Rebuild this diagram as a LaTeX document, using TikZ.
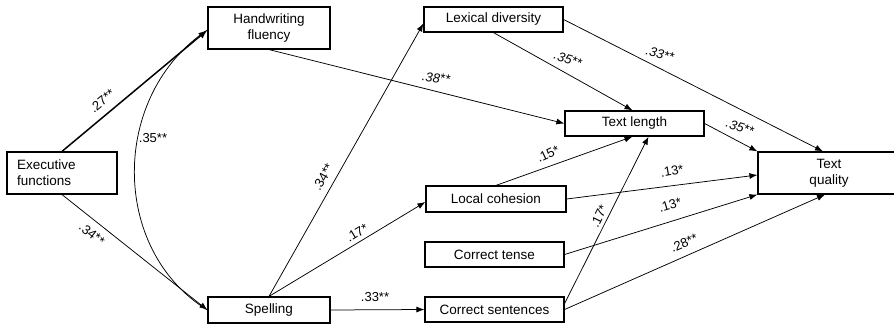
\documentclass[tikz,border=0pt]{standalone}
\usepackage{fontspec}
\setmainfont{Liberation Sans}
\usetikzlibrary{arrows.meta}
\begin{document}
\begin{tikzpicture}[x=1pt,y=-1pt,
  box/.style={draw, line width=1.2pt, inner sep=0pt, align=center,
    font=\fontsize{13.5}{16}\selectfont},
  link/.style={draw, line width=0.75pt, -{Latex[length=8pt,width=6pt]}},
  boldlink/.style={draw, line width=1.5pt, -{Latex[length=9pt,width=7pt]}},
  coef/.style={inner sep=0pt, font=\fontsize{13}{15}\selectfont},
  icoef/.style={coef, font=\fontsize{13}{15}\selectfont\itshape}]
\clip (0,0) rectangle (894,326);

% measured variables
\node[box, minimum width=110pt, minimum height=42pt, text width=90pt, align=left] (ef) at (62,173) {Executive\\functions};
\node[box, minimum width=122pt, minimum height=42pt] (hf) at (269,28) {Handwriting\\fluency};
\node[box, minimum width=122pt, minimum height=26pt] (sp) at (269,310) {Spelling};
\node[box, minimum width=139pt, minimum height=25pt] (ld) at (493.5,19.5) {Lexical diversity};
\node[box, minimum width=139pt, minimum height=25pt] (tl) at (634.5,123.5) {Text length};
\node[box, minimum width=140pt, minimum height=26pt] (lc) at (496,199) {Local cohesion};
\node[box, minimum width=139pt, minimum height=25pt] (ct) at (494.5,254.5) {Correct tense};
\node[box, minimum width=139pt, minimum height=25pt] (cs) at (494.5,309.5) {Correct sentences};
\node[box, minimum width=142pt, minimum height=42pt] (tq) at (829,173) {Text\\quality};

% paths from executive functions
\path[boldlink] (ef.north) -- ([yshift=-2pt]hf.west);
\path[link] (ef.south) -- (sp.west);
% correlation between handwriting fluency and spelling
\draw[line width=0.75pt] ([yshift=-2pt]hf.west) .. controls (110,95) and (110,250) .. (sp.west);

% paths from transcription skills
\path[link] (hf.south) -- (tl.west);
\path[link] (sp.north) -- ([yshift=-4pt]ld.west);
\path[link] (sp.north) -- ([yshift=-3pt]lc.west);
\path[link] (sp.east) -- (cs.west);

% paths to text length
\path[link] (ld.south) -- ([xshift=-2pt]tl.north);
\path[link] (lc.north) -- ([xshift=-2pt]tl.south);
\path[link] ([yshift=6pt]cs.east) -- ([xshift=14pt]tl.south);

% paths to text quality
\path[link] (ld.east) -- ([xshift=-6pt]tq.north);
\path[link] (tl.east) -- (tq.north west);
\path[link] (lc.east) -- ([yshift=-2pt]tq.west);
\path[link] (ct.east) -- (tq.south west);
\path[link] (cs.east) -- ([xshift=-4pt]tq.south);

% coefficients
\node[coef, rotate=40] (c27) at (102,101) {.27**};
\node[coef, rotate=-38] (c34a) at (92,234) {.34**};
\node[coef] (c35c) at (153,138) {.35**};
\node[icoef, rotate=-6] (c38) at (436,78) {.38**};
\node[icoef, rotate=-18] (c35a) at (568,59) {.35**};
\node[icoef, rotate=-15] (c33a) at (660,54) {.33**};
\node[icoef, rotate=-18] (c35b) at (740,127) {.35**};
\node[coef, rotate=25] (c15) at (548,154) {.15*};
\node[coef, rotate=64] (c17b) at (599,216) {.17*};
\node[coef, rotate=10] (c13a) at (672,171) {.13*};
\node[coef, rotate=17] (c13b) at (670,205) {.13*};
\node[coef, rotate=24] (c28) at (684,243) {.28**};
\node[coef, rotate=60] (c34b) at (323,177) {.34**};
\node[coef, rotate=31] (c17a) at (357,233) {.17*};
\node[coef] (c33b) at (375,297) {.33**};
\end{tikzpicture}
\end{document}
